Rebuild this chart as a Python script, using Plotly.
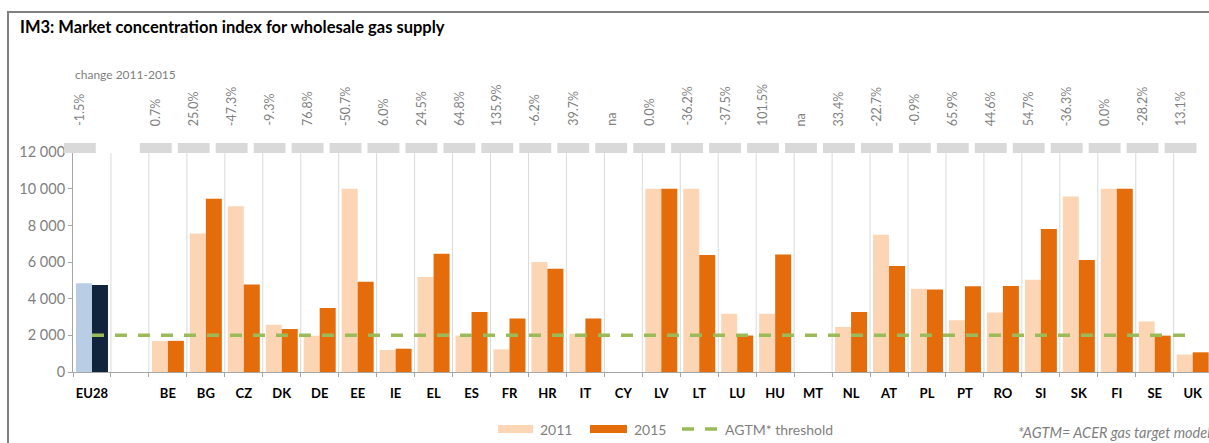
import plotly.graph_objects as go

# ---------------- data ----------------
categories = ["EU28", " ", "BE", "BG", "CZ", "DK", "DE", "EE", "IE", "EL", "ES", "FR", "HR", "IT",
              "CY", "LV", "LT", "LU", "HU", "MT", "NL", "AT", "PL", "PT", "RO", "SI", "SK",
              "FI", "SE", "UK"]
values_2011 = [4850, None, 1690, 7560, 9050, 2580, 1980, 10000, 1200, 5180, 1990, 1240, 6000, 2090,
               None, 10000, 10000, 3180, 3180, None, 2460, 7490, 4545, 2820, 3250, 5040, 9580,
               10000, 2760, 950]
values_2015 = [4750, None, 1700, 9460, 4770, 2345, 3500, 4930, 1272, 6450, 3280, 2925, 5630, 2920,
               None, 10000, 6380, 1990, 6410, None, 3280, 5790, 4500, 4675, 4700, 7800, 6110,
               10000, 1985, 1075]
change_labels = ["-1.5%", "", "0.7%", "25.0%", "-47.3%", "-9.3%", "76.8%", "-50.7%", "6.0%", "24.5%",
                 "64.8%", "135.9%", "-6.2%", "39.7%", "na", "0.0%", "-36.2%", "-37.5%", "101.5%",
                 "na", "33.4%", "-22.7%", "-0.9%", "65.9%", "44.6%", "54.7%", "-36.3%", "0.0%",
                 "-28.2%", "13.1%"]
threshold = 2000
y_tickvals = [0, 2000, 4000, 6000, 8000, 10000, 12000]
y_ticktext = ["0", "2 000", "4 000", "6 000", "8 000", "10 000", "12 000"]

# ---------------- layout helpers ----------------
W, H = 1209, 443
ML, MR, MT, MB = 73, 0, 143, 71
PW, PH = W - ML - MR, H - MT - MB
XR = [-0.5, 29.43]
YR = [0, 12500]


def px(x):
    return (x - ML) / PW


def py(y):
    return (H - MB - y) / PH


def dx(i):
    return (i - XR[0]) / (XR[1] - XR[0])


FONT = "Lato, 'Open Sans', sans-serif"
GRAY = "#7f7f7f"

c2011 = ["#b9cde5" if c == "EU28" else "#fcd5b5" for c in categories]
c2015 = ["#12243d" if c == "EU28" else "#e46c0a" for c in categories]

fig = go.Figure()
fig.add_trace(go.Bar(x=categories, y=values_2011, name="2011", marker=dict(color=c2011, line=dict(width=0)),
                     showlegend=False))
fig.add_trace(go.Bar(x=categories, y=values_2015, name="2015", marker=dict(color=c2015, line=dict(width=0)),
                     showlegend=False))
fig.add_trace(go.Scatter(x=categories, y=[threshold] * len(categories), mode="lines",
                         name="AGTM* threshold",
                         line=dict(color="#9bbb59", width=3.5, dash="12px,11px"), showlegend=False))

shapes = []
# category separators
for i in range(len(categories) - 1):
    shapes.append(dict(type="line", xref="x", yref="y", x0=i + 0.5, x1=i + 0.5, y0=0, y1=11950,
                       line=dict(color="#d9d9d9", width=1), layer="below"))
# gray boxes above each category
for i, lab in enumerate(change_labels):
    if lab == "":
        continue
    shapes.append(dict(type="rect", xref="paper", yref="paper",
                       x0=dx(i - 0.74), x1=dx(i + 0.10), y0=py(153), y1=py(143),
                       fillcolor="#d9d9d9", line=dict(width=0), layer="above"))
# outer frame
shapes.append(dict(type="rect", xref="paper", yref="paper", x0=px(8), x1=px(1230), y0=py(460), y1=py(12),
                   line=dict(color="#808080", width=2), fillcolor="rgba(0,0,0,0)"))
# custom legend swatches
shapes.append(dict(type="rect", xref="paper", yref="paper", x0=px(498), x1=px(533), y0=py(433), y1=py(425),
                   fillcolor="#fcd5b5", line=dict(width=0)))
shapes.append(dict(type="rect", xref="paper", yref="paper", x0=px(590), x1=px(627), y0=py(433), y1=py(425),
                   fillcolor="#e46c0a", line=dict(width=0)))
shapes.append(dict(type="line", xref="paper", yref="paper", x0=px(682), x1=px(717), y0=py(429), y1=py(429),
                   line=dict(color="#9bbb59", width=3.5, dash="12px,11px")))

annotations = []
for i, lab in enumerate(change_labels):
    if lab == "":
        continue
    annotations.append(dict(x=i - 0.32, xref="x", y=py(128), yref="paper", text=lab, textangle=-90,
                            showarrow=False, xanchor="center", yanchor="bottom",
                            font=dict(family=FONT, size=12.5, color=GRAY)))
annotations.append(dict(x=px(18), y=py(27), xref="paper", yref="paper", xanchor="left", yanchor="middle",
                        text="<b>IM3: Market concentration index for wholesale gas supply</b>",
                        showarrow=False, font=dict(family=FONT, size=16.5, color="#000000")))
annotations.append(dict(x=px(73), y=py(74), xref="paper", yref="paper", xanchor="left", yanchor="middle",
                        text="change 2011-2015", showarrow=False,
                        font=dict(family=FONT, size=12, color=GRAY)))
for xpix, txt in [(538, "2011"), (632, "2015"), (723, "AGTM* threshold")]:
    annotations.append(dict(x=px(xpix), y=py(429), xref="paper", yref="paper", xanchor="left",
                            yanchor="middle", text=txt, showarrow=False,
                            font=dict(family=FONT, size=14, color=GRAY)))
annotations.append(dict(x=px(1016), y=py(432), xref="paper", yref="paper", xanchor="left", yanchor="middle",
                        text="<i>*AGTM= ACER gas target model</i>", showarrow=False,
                        font=dict(family=FONT, size=14.5, color=GRAY)))

fig.update_layout(
    width=W, height=H,
    margin=dict(l=ML, r=MR, t=MT, b=MB, pad=0),
    paper_bgcolor="white", plot_bgcolor="white",
    barmode="group", bargap=0.157, bargroupgap=0,
    showlegend=False,
    shapes=shapes, annotations=annotations,
    font=dict(family=FONT),
)
fig.update_xaxes(type="category", range=XR, showgrid=False, zeroline=False,
                 showline=True, linecolor="#a6a6a6", linewidth=1,
                 ticks="outside", tickson="boundaries", ticklen=4, tickcolor="#a6a6a6",
                 tickvals=categories, ticktext=["<b>%s</b>" % c if c.strip() else "" for c in categories],
                 tickfont=dict(family=FONT, size=13, color="#000000"), ticklabelstandoff=9,
                 tickangle=0)
fig.update_yaxes(range=YR, showgrid=False, zeroline=False, showline=True, linecolor="#a6a6a6", linewidth=1,
                 ticks="outside", ticklen=4, tickcolor="#a6a6a6",
                 tickvals=y_tickvals, ticktext=y_ticktext,
                 tickfont=dict(family=FONT, size=14.5, color=GRAY))

fig.write_html("out.html", config={"displayModeBar": False},
               post_script="document.body.style.margin='0';document.body.style.overflow='hidden';")
